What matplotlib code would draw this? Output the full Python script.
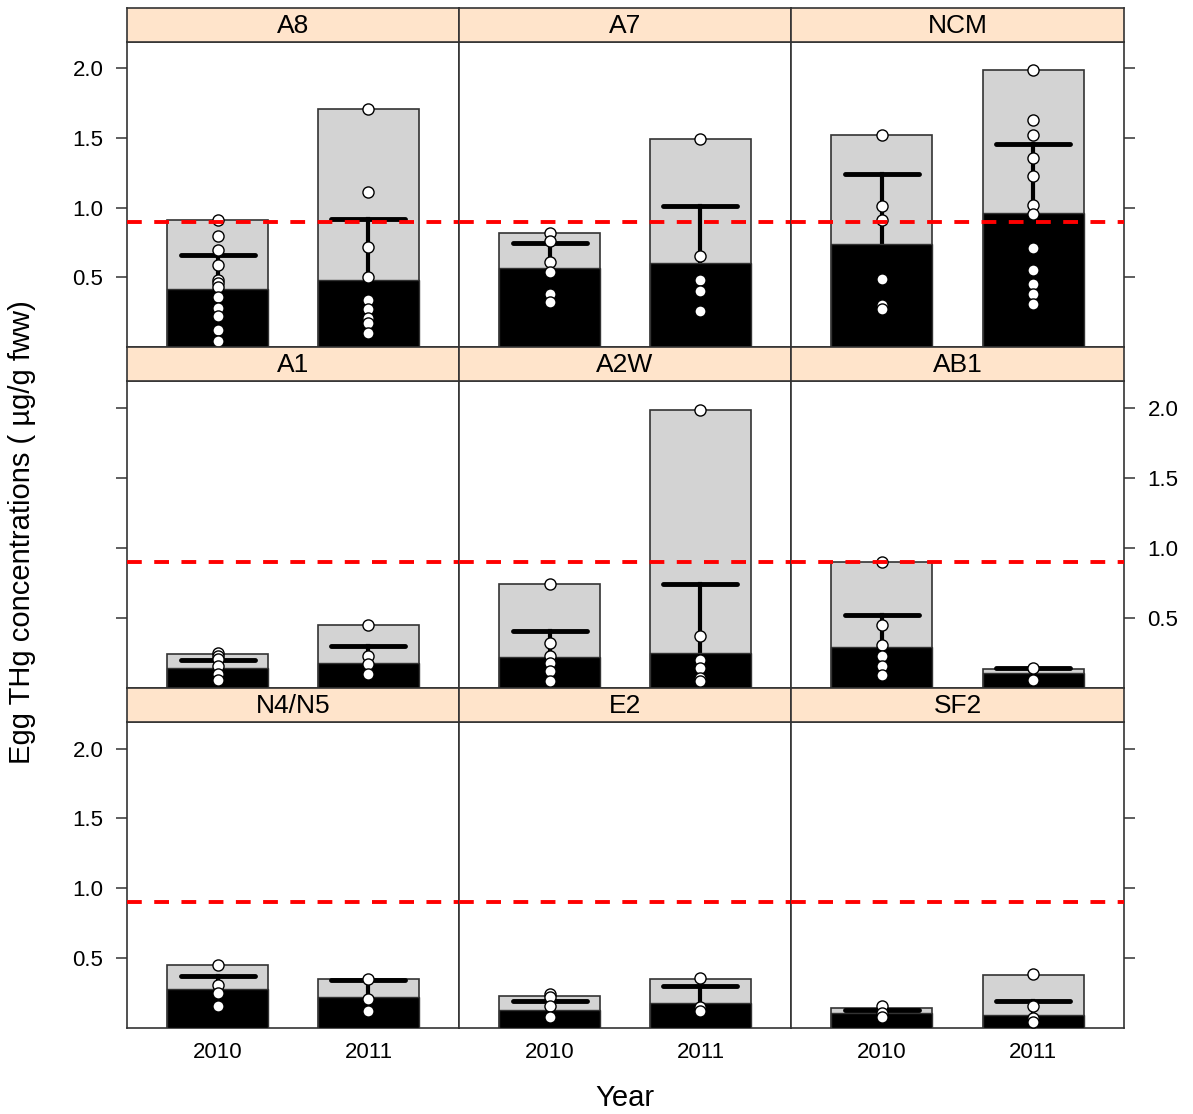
import numpy as np
import matplotlib
matplotlib.use("Agg")
import matplotlib.pyplot as plt

plt.rcParams['font.family'] = ['Liberation Sans', 'DejaVu Sans']

sites = ["A8", "A7", "NCM", "A1", "A2W", "AB1", "N4/N5", "E2", "SF2"]
years = ["2010", "2011"]

# grey bar = maximum, black bar = median, thick line = mean, whisker down to low
max_2010 = [0.91, 0.82, 1.52, 0.24, 0.74, 0.90, 0.45, 0.23, 0.14]
max_2011 = [1.71, 1.49, 1.99, 0.45, 1.98, 0.135, 0.35, 0.35, 0.38]
med_2010 = [0.42, 0.57, 0.74, 0.14, 0.22, 0.29, 0.28, 0.13, 0.11]
med_2011 = [0.48, 0.60, 0.96, 0.18, 0.25, 0.11, 0.22, 0.18, 0.09]
mean_2010 = [0.66, 0.75, 1.24, 0.20, 0.41, 0.52, 0.37, 0.19, 0.13]
mean_2011 = [0.92, 1.01, 1.46, 0.30, 0.74, 0.145, 0.34, 0.30, 0.19]
low_2010 = [0.42, 0.57, 0.74, 0.14, 0.22, 0.29, 0.28, 0.13, 0.11]
low_2011 = [0.48, 0.60, 0.96, 0.18, 0.25, 0.11, 0.21, 0.15, 0.09]

pts_2010 = [
    [0.91, 0.80, 0.70, 0.59, 0.48, 0.46, 0.43, 0.36, 0.28, 0.22, 0.12, 0.045],
    [0.82, 0.76, 0.61, 0.54, 0.38, 0.32],
    [1.52, 1.01, 0.91, 0.49, 0.30, 0.27],
    [0.25, 0.23, 0.21, 0.16, 0.10, 0.06],
    [0.74, 0.32, 0.23, 0.18, 0.12, 0.05],
    [0.90, 0.45, 0.31, 0.23, 0.16, 0.09],
    [0.45, 0.31, 0.25, 0.16],
    [0.24, 0.22, 0.16, 0.08],
    [0.155, 0.11, 0.08],
]
pts_2011 = [
    [1.71, 1.11, 0.72, 0.50, 0.34, 0.27, 0.21, 0.17, 0.10],
    [1.49, 0.65, 0.48, 0.40, 0.26],
    [1.99, 1.63, 1.52, 1.36, 1.23, 1.02, 0.955, 0.71, 0.55, 0.45, 0.38, 0.31],
    [0.45, 0.23, 0.17, 0.10],
    [1.98, 0.37, 0.20, 0.14, 0.07, 0.05],
    [0.14, 0.06],
    [0.35, 0.21, 0.12],
    [0.36, 0.15, 0.12],
    [0.39, 0.155, 0.07, 0.04],
]

threshold = 0.9
yticks = [0.5, 1.0, 1.5, 2.0]

W, H = 1193, 1114
fig = plt.figure(figsize=(W / 100, H / 100), dpi=100)

col_x = [127, 459, 791, 1124]
strip_top = [8, 347, 688]
panel_bot = [347, 688, 1028]
strip_h = 34
edge = "#333333"


def fx(px):
    return px / W


def fy(py):
    return 1 - py / H


for i, site in enumerate(sites):
    r, c = divmod(i, 3)
    x0, x1 = col_x[c], col_x[c + 1]
    st = strip_top[r]
    pt, pb = st + strip_h, panel_bot[r]

    ax = fig.add_axes([fx(x0), fy(pb), fx(x1 - x0), (pb - pt) / H])
    sax = fig.add_axes([fx(x0), fy(pt), fx(x1 - x0), strip_h / H])

    sax.set_facecolor("#FFE4CB")
    sax.set_xticks([])
    sax.set_yticks([])
    for s in sax.spines.values():
        s.set_color(edge)
        s.set_linewidth(1.2)
    sax.text(0.5, 0.48, site, ha="center", va="center", fontsize=19,
             transform=sax.transAxes)

    mx = [max_2010[i], max_2011[i]]
    md = [med_2010[i], med_2011[i]]
    mn = [mean_2010[i], mean_2011[i]]
    lo = [low_2010[i], low_2011[i]]
    pts = [pts_2010[i], pts_2011[i]]
    xs = [1, 2]

    ax.bar(xs, mx, width=0.667, color="#D3D3D3", edgecolor=edge,
           linewidth=1.2, zorder=1)
    for k in range(2):
        ax.plot([xs[k], xs[k]], [lo[k], mn[k]], color="black", lw=3,
                zorder=2)
    ax.bar(xs, md, width=0.667, color="black", edgecolor=edge,
           linewidth=1.0, zorder=3)
    for k in range(2):
        ax.plot([xs[k] - 0.245, xs[k] + 0.245], [mn[k], mn[k]],
                color="black", lw=3.5, solid_capstyle="round", zorder=4)
        ax.plot([xs[k]] * len(pts[k]), pts[k], "o", ms=8, mfc="white",
                mec="black", mew=1.0, zorder=5)
    ax.axhline(threshold, color="red", lw=2.8, dashes=(3.8, 3.2), zorder=6)

    ax.set_xlim(0.4, 2.6)
    ax.set_ylim(0, 2.19)
    ax.set_xticks([])
    for s in ax.spines.values():
        s.set_color(edge)
        s.set_linewidth(1.2)

    if c == 0 or c == 2:
        ax.set_yticks(yticks)
        ax.set_yticklabels(["%.1f" % v for v in yticks])
        if c == 2:
            ax.yaxis.tick_right()
        ax.tick_params(axis="y", direction="out", length=8, width=1.1,
                       color=edge, labelsize=16, pad=9)
        show_labels = (r != 1) if c == 0 else (r == 1)
        if not show_labels:
            ax.set_yticklabels([])
    else:
        ax.set_yticks([])

    if r == 2:
        ax.set_xticks(xs)
        ax.set_xticklabels(years)
        ax.tick_params(axis="x", length=0, labelsize=16, pad=10)

fig.text(fx(22), fy(532), "Egg THg concentrations ( \u00b5g/g fww)",
         rotation=90, ha="center", va="center", fontsize=21)
fig.text(fx(625), fy(1098), "Year", ha="center", va="center", fontsize=21)

fig.savefig("out.png", dpi=100)
